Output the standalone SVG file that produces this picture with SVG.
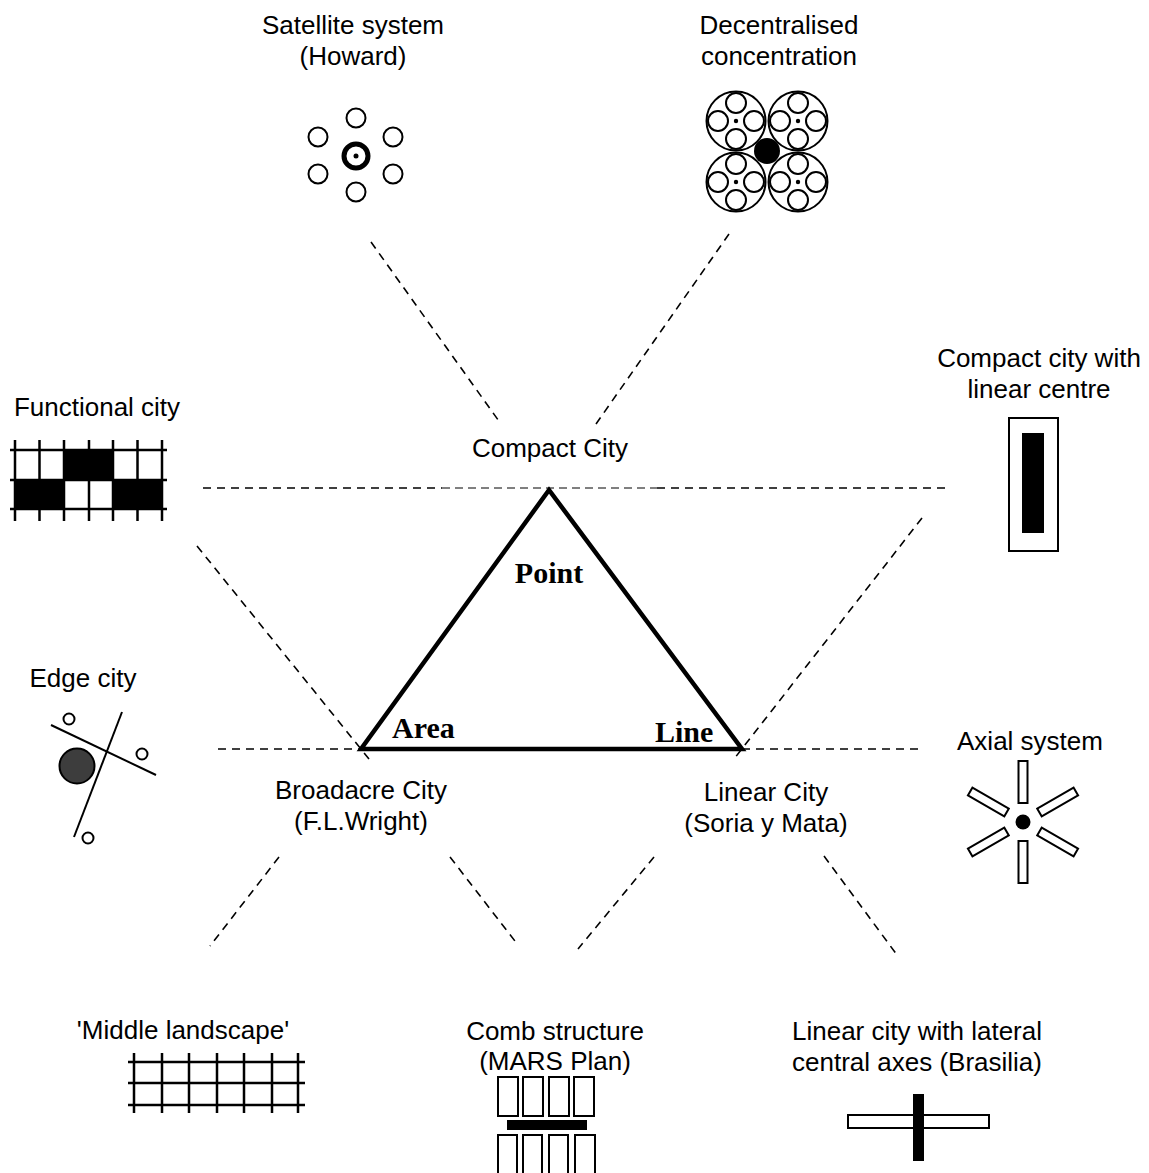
<svg xmlns="http://www.w3.org/2000/svg" width="1149" height="1173" viewBox="0 0 1149 1173">
<style>
.lbl{font-family:"Liberation Sans",Arial,sans-serif;font-size:26px;fill:#000;text-anchor:middle}
.big{font-family:"Liberation Serif","Times New Roman",serif;font-size:30px;font-weight:bold;fill:#000}
.dash{stroke:#000;stroke-width:1.6;stroke-dasharray:8 6;fill:none}
.dthin{stroke:#000;stroke-width:1;stroke-dasharray:8 5;fill:none}
.o{fill:#fff;stroke:#000;stroke-width:2}
.g{stroke:#000;stroke-width:2.5;fill:none}
</style>
<rect width="1149" height="1173" fill="#fff"/>
<g id="connectors">
<line class="dash" x1="371" y1="242" x2="501" y2="424"/>
<line class="dash" x1="729" y1="234" x2="596" y2="424"/>
<line class="dash" x1="203" y1="488" x2="442" y2="488"/>
<line class="dthin" x1="442" y1="488" x2="657" y2="488"/>
<line class="dash" x1="657" y1="488" x2="948" y2="488"/>
<line class="dash" x1="197" y1="546" x2="369" y2="759"/>
<line class="dash" x1="922" y1="518" x2="734" y2="759"/>
<line class="dash" x1="218" y1="749" x2="361" y2="749"/>
<line class="dash" x1="742" y1="749" x2="920" y2="749"/>
<line class="dash" x1="279" y1="857" x2="210" y2="946"/>
<line class="dash" x1="450" y1="857" x2="518" y2="945"/>
<line class="dash" x1="654" y1="857" x2="578" y2="949"/>
<line class="dash" x1="824" y1="856" x2="897" y2="955"/>
</g>
<g id="triangle">
<polygon points="549,490 361,749 742,749" fill="none" stroke="#000" stroke-width="4.5" stroke-linejoin="miter"/>
<text class="big" x="549" y="583" text-anchor="middle">Point</text>
<text class="big" x="392" y="738">Area</text>
<text class="big" x="655" y="742">Line</text>
</g>
<g id="compact-city"><text class="lbl" x="550" y="457">Compact City</text></g>
<g id="broadacre-city"><text class="lbl" x="361" y="799">Broadacre City</text><text class="lbl" x="361" y="830">(F.L.Wright)</text></g>
<g id="linear-city"><text class="lbl" x="766" y="801">Linear City</text><text class="lbl" x="766" y="832">(Soria y Mata)</text></g>
<g id="satellite-system">
<text class="lbl" x="353" y="34">Satellite system</text><text class="lbl" x="353" y="65">(Howard)</text>
<circle cx="356" cy="156" r="12" fill="#fff" stroke="#000" stroke-width="5"/>
<circle cx="356" cy="156" r="2.5" fill="#000"/>
<circle class="o" cx="356" cy="118" r="9.5"/>
<circle class="o" cx="318" cy="137" r="9.5"/>
<circle class="o" cx="393" cy="137" r="9.5"/>
<circle class="o" cx="318" cy="174" r="9.5"/>
<circle class="o" cx="393" cy="174" r="9.5"/>
<circle class="o" cx="356" cy="192" r="9.5"/>
</g>
<defs>
<g id="wheel">
<circle class="o" r="29.5"/>
<circle class="o" cx="0" cy="-18" r="10"/>
<circle class="o" cx="0" cy="18" r="10"/>
<circle class="o" cx="-18" cy="0" r="10"/>
<circle class="o" cx="18" cy="0" r="10"/>
<circle r="2.2" fill="#000"/>
</g>
<rect id="spoke" x="-4.5" y="-61" width="9" height="42" fill="#fff" stroke="#000" stroke-width="2"/>
</defs>
<g id="decentralised-concentration">
<text class="lbl" x="779" y="34">Decentralised</text><text class="lbl" x="779" y="65">concentration</text>
<use href="#wheel" x="736" y="121"/>
<use href="#wheel" x="798" y="121"/>
<use href="#wheel" x="736" y="182"/>
<use href="#wheel" x="798" y="182"/>
<circle cx="767" cy="151" r="13" fill="#000"/>
</g>
<g id="functional-city">
<text class="lbl" x="97" y="416">Functional city</text>
<rect x="64" y="450" width="49" height="30" fill="#000"/>
<rect x="15" y="480" width="49" height="29" fill="#000"/>
<rect x="113" y="480" width="49" height="29" fill="#000"/>
<path class="g" d="M10 450H167M10 480H167M10 509H167M15 440V521M39.5 440V521M64 440V521M89 440V521M113 440V521M137.5 440V521M162 440V521"/>
</g>
<g id="compact-city-linear-centre">
<text class="lbl" x="1039" y="367">Compact city with</text><text class="lbl" x="1039" y="398">linear centre</text>
<rect x="1009" y="418" width="49" height="133" fill="#fff" stroke="#000" stroke-width="2"/>
<rect x="1022" y="433" width="22" height="100" fill="#000"/>
</g>
<g id="edge-city">
<text class="lbl" x="83" y="687">Edge city</text>
<line x1="51" y1="725" x2="156" y2="775" stroke="#000" stroke-width="2"/>
<line x1="122" y1="712" x2="74" y2="837" stroke="#000" stroke-width="2"/>
<circle cx="77" cy="766" r="17.5" fill="#3d3d3d" stroke="#000" stroke-width="2"/>
<circle class="o" cx="69" cy="719" r="5.5"/>
<circle class="o" cx="142" cy="754" r="5.5"/>
<circle class="o" cx="88" cy="838" r="5.5"/>
</g>
<g id="axial-system">
<text class="lbl" x="1030" y="750">Axial system</text>
<g transform="translate(1023,822)">
<use href="#spoke"/>
<use href="#spoke" transform="rotate(60)"/>
<use href="#spoke" transform="rotate(120)"/>
<use href="#spoke" transform="rotate(180)"/>
<use href="#spoke" transform="rotate(240)"/>
<use href="#spoke" transform="rotate(300)"/>
<circle r="7.5" fill="#000"/>
</g>
</g>
<g id="middle-landscape">
<text class="lbl" x="183" y="1039">'Middle landscape'</text>
<path class="g" d="M128 1062H305M128 1083H305M128 1105H305M134 1053V1113M162 1053V1113M189 1053V1113M217 1053V1113M244 1053V1113M272 1053V1113M298 1053V1113"/>
</g>
<g id="comb-structure">
<text class="lbl" x="555" y="1040">Comb structure</text><text class="lbl" x="555" y="1070">(MARS Plan)</text>
<rect class="o" x="498" y="1077" width="20" height="39"/>
<rect class="o" x="523" y="1077" width="20" height="39"/>
<rect class="o" x="549" y="1077" width="20" height="39"/>
<rect class="o" x="574" y="1077" width="20" height="39"/>
<rect x="507" y="1120" width="80" height="10" fill="#000"/>
<rect class="o" x="498" y="1135" width="19" height="45"/>
<rect class="o" x="523" y="1135" width="19" height="45"/>
<rect class="o" x="549" y="1135" width="19" height="45"/>
<rect class="o" x="575" y="1135" width="20" height="45"/>
</g>
<g id="brasilia">
<text class="lbl" x="917" y="1040">Linear city with lateral</text><text class="lbl" x="917" y="1071">central axes (Brasilia)</text>
<rect class="o" x="848" y="1115" width="141" height="13"/>
<rect x="913" y="1094" width="11" height="67" fill="#000"/>
</g>
</svg>
